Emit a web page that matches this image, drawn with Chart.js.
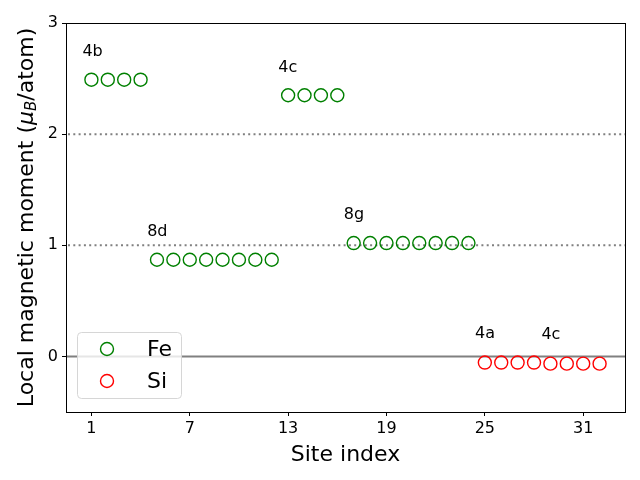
<!DOCTYPE html>
<html>
<head>
<meta charset="utf-8">
<script src="https://cdn.jsdelivr.net/npm/chart.js@4"></script>
<style>html,body{margin:0;padding:0;background:#fff}</style>
</head>
<body>
<canvas id="chart" width="640" height="480"></canvas>
<script>
// data
const feSites = [1, 2, 3, 4, 5, 6, 7, 8, 9, 10, 11, 12, 13, 14, 15, 16, 17, 18, 19, 20, 21, 22, 23, 24];
const feMoments = [2.49, 2.49, 2.49, 2.49,
    0.87, 0.87, 0.87, 0.87, 0.87, 0.87, 0.87, 0.87,
    2.35, 2.35, 2.35, 2.35,
    1.02, 1.02, 1.02, 1.02, 1.02, 1.02, 1.02, 1.02];
const siSites = [25, 26, 27, 28, 29, 30, 31, 32];
const siMoments = [-0.055, -0.055, -0.055, -0.055, -0.065, -0.065, -0.065, -0.065];

const wyckoffLabels = ['4b', '4c', '8d', '8g', '4a', '4c'];
const wyckoffX = [0.45, 12.4, 4.4, 16.4, 24.4, 28.45];
const wyckoffY = [2.74, 2.6, 1.12, 1.27, 0.2, 0.19];

const xTicks = [1, 7, 13, 19, 25, 31];
const yTicks = [0, 1, 2, 3];
const dottedLines = [1, 2];
const zeroLine = 0;

const FONT = 'DejaVu Sans';

const extras = {
    id: 'extras',
    beforeDatasetsDraw(chart) {
        const { ctx, chartArea: a, scales: { y } } = chart;
        ctx.save();
        ctx.strokeStyle = '#808080';
        ctx.lineWidth = 2;
        ctx.setLineDash([2, 3.3]);
        dottedLines.forEach(v => {
            const py = y.getPixelForValue(v);
            ctx.beginPath();
            ctx.moveTo(a.left + 2, py);
            ctx.lineTo(a.right, py);
            ctx.stroke();
        });
        ctx.setLineDash([]);
        ctx.lineWidth = 2;
        const pz = y.getPixelForValue(zeroLine);
        ctx.beginPath();
        ctx.moveTo(a.left, pz);
        ctx.lineTo(a.right, pz);
        ctx.stroke();
        ctx.restore();
    },
    afterDraw(chart) {
        const { ctx, chartArea: a, scales: { x, y } } = chart;
        ctx.save();

        // frame
        ctx.strokeStyle = '#000';
        ctx.lineWidth = 1;
        ctx.strokeRect(Math.round(a.left) + 0.5, Math.round(a.top) + 0.5,
            Math.round(a.right - a.left), Math.round(a.bottom - a.top));

        // site labels
        ctx.fillStyle = '#000';
        ctx.font = '16px "' + FONT + '"';
        ctx.textAlign = 'left';
        ctx.textBaseline = 'middle';
        wyckoffLabels.forEach((t, i) => {
            ctx.fillText(t, x.getPixelForValue(wyckoffX[i]), y.getPixelForValue(wyckoffY[i]));
        });

        // legend
        const lx = 77, ly = 332, lw = 104, lh = 66;
        ctx.fillStyle = 'rgba(255,255,255,0.8)';
        ctx.strokeStyle = '#d6d6d6';
        ctx.lineWidth = 1;
        ctx.beginPath();
        ctx.roundRect(lx + 0.5, ly + 0.5, lw, lh, 4);
        ctx.fill();
        ctx.stroke();
        ctx.font = '22px "' + FONT + '"';
        chart.data.datasets.forEach((ds, i) => {
            const cy = ly + 17 + i * 32;
            ctx.strokeStyle = ds.borderColor;
            ctx.lineWidth = ds.borderWidth;
            ctx.beginPath();
            ctx.arc(107, cy, 6.5, 0, Math.PI * 2);
            ctx.stroke();
            ctx.fillStyle = '#000';
            ctx.fillText(ds.label, 147, cy + 1);
        });

        // y title with italic mu and subscript B
        const parts = [
            { t: 'Local magnetic moment (', f: '22px "' + FONT + '"', dy: 0 },
            { t: 'μ', f: 'italic 22px "' + FONT + '"', dy: 0 },
            { t: 'B', f: 'italic 15px "' + FONT + '"', dy: 5 },
            { t: '/atom)', f: '22px "' + FONT + '"', dy: 0 }
        ];
        let total = 0;
        parts.forEach(p => { ctx.font = p.f; p.w = ctx.measureText(p.t).width; total += p.w; });
        ctx.translate(27, (a.top + a.bottom) / 2);
        ctx.rotate(-Math.PI / 2);
        ctx.textBaseline = 'middle';
        let px = -total / 2;
        parts.forEach(p => {
            ctx.font = p.f;
            ctx.fillText(p.t, px, p.dy);
            px += p.w;
        });
        ctx.restore();
    }
};

const ctx = document.getElementById('chart').getContext('2d');
const chart = new Chart(ctx, {
    type: 'scatter',
    data: {
        datasets: [{
            label: 'Fe',
            data: feSites.map((s, i) => ({ x: s, y: feMoments[i] })),
            borderColor: '#008000',
            backgroundColor: 'rgba(0,0,0,0)',
            borderWidth: 1.4,
            pointRadius: 6.5,
            pointHoverRadius: 6.5
        }, {
            label: 'Si',
            data: siSites.map((s, i) => ({ x: s, y: siMoments[i] })),
            borderColor: '#ff0000',
            backgroundColor: 'rgba(0,0,0,0)',
            borderWidth: 1.4,
            pointRadius: 6.5,
            pointHoverRadius: 6.5
        }]
    },
    options: {
        responsive: false,
        animation: false,
        devicePixelRatio: 1,
        layout: { padding: { top: 23, right: 15, left: 0, bottom: 0 } },
        plugins: { legend: { display: false }, tooltip: { enabled: false } },
        scales: {
            x: {
                type: 'linear',
                min: -0.55,
                max: 33.55,
                afterBuildTicks: s => { s.ticks = xTicks.map(v => ({ value: v })); },
                afterFit: s => { s.height = 68; },
                grid: { drawOnChartArea: false, drawTicks: true, tickLength: 4, color: '#000' },
                border: { display: true, color: '#000' },
                ticks: { color: '#000', font: { family: FONT, size: 16 }, padding: 3, maxRotation: 0 },
                title: { display: true, text: 'Site index', color: '#000', font: { family: FONT, size: 22 }, padding: { top: 0, bottom: 12 } }
            },
            y: {
                type: 'linear',
                min: -0.5,
                max: 3,
                afterBuildTicks: s => { s.ticks = yTicks.map(v => ({ value: v })); },
                afterFit: s => { s.width = 66; },
                grid: { drawOnChartArea: false, drawTicks: true, tickLength: 4, color: '#000' },
                border: { display: true, color: '#000' },
                ticks: { color: '#000', font: { family: FONT, size: 16 }, padding: 4 }
            }
        }
    },
    plugins: [extras]
});
</script>
</body>
</html>
